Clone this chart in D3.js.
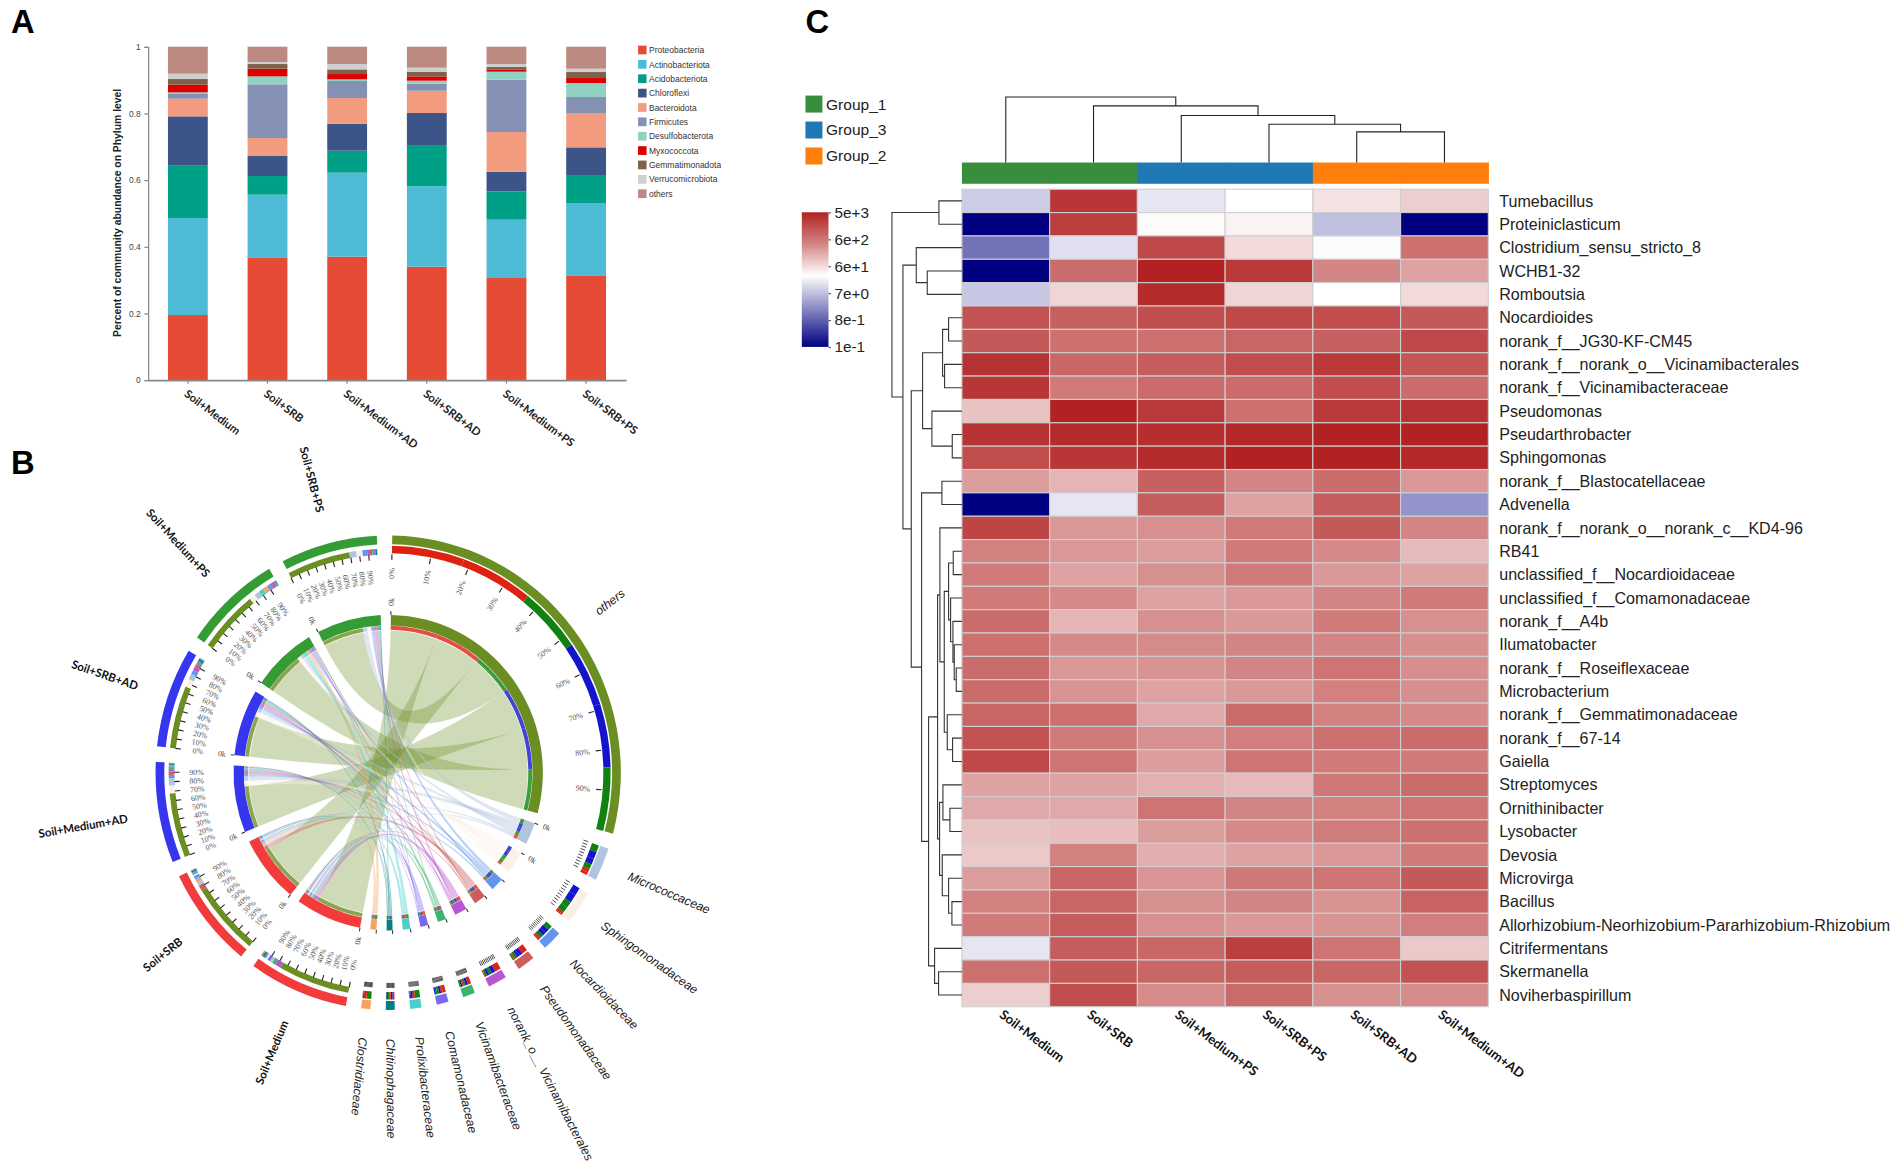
<!DOCTYPE html>
<html>
<head>
<meta charset="utf-8">
<script src="https://cdn.jsdelivr.net/npm/d3@7"></script>
<style>
body { margin: 0; background: #fff; }
svg { display: block; }
</style>
</head>
<body>
<script>
// ---------- panel A data ----------
const barSamples = ["Soil+Medium", "Soil+SRB", "Soil+Medium+AD", "Soil+SRB+AD", "Soil+Medium+PS", "Soil+SRB+PS"];
const phyla = ["Proteobacteria", "Actinobacteriota", "Acidobacteriota", "Chloroflexi", "Bacteroidota", "Firmicutes", "Desulfobacterota", "Myxococcota", "Gemmatimonadota", "Verrucomicrobiota", "others"];
const phylumColors = ["#E64B35", "#4DBBD5", "#00A087", "#3C5488", "#F39B7F", "#8491B4", "#91D1C2", "#DC0000", "#7E6148", "#CFCFCF", "#BC8A80"];
const proteobacteria = [0.195, 0.368, 0.370, 0.340, 0.306, 0.314];
const actinobacteriota = [0.291, 0.188, 0.252, 0.241, 0.175, 0.217];
const acidobacteriota = [0.157, 0.056, 0.066, 0.124, 0.085, 0.084];
const chloroflexi = [0.148, 0.060, 0.081, 0.096, 0.059, 0.083];
const bacteroidota = [0.053, 0.054, 0.077, 0.067, 0.119, 0.103];
const firmicutes = [0.016, 0.161, 0.051, 0.021, 0.157, 0.048];
const desulfobacterota = [0.003, 0.024, 0.005, 0.009, 0.024, 0.042];
const myxococcota = [0.023, 0.023, 0.016, 0.013, 0.007, 0.015];
const gemmatimonadota = [0.017, 0.014, 0.014, 0.014, 0.007, 0.018];
const verrucomicrobiota = [0.016, 0.006, 0.016, 0.012, 0.009, 0.010];
const otherPhyla = [0.081, 0.046, 0.052, 0.063, 0.052, 0.066];
const phylumValues = [proteobacteria, actinobacteriota, acidobacteriota, chloroflexi, bacteroidota, firmicutes, desulfobacterota, myxococcota, gemmatimonadota, verrucomicrobiota, otherPhyla];

// ---------- panel B data ----------
const chordSamples = ["Soil+Medium", "Soil+SRB", "Soil+Medium+AD", "Soil+SRB+AD", "Soil+Medium+PS", "Soil+SRB+PS"];
const chordSampleColors = ["#F23B3B", "#F23B3B", "#3636EE", "#3636EE", "#359B35", "#359B35"];
const chordStackColors = ["#DD2211", "#DD2211", "#1414CC", "#1414CC", "#0F820F", "#0F820F"];
const chordTaxa = ["others", "Micrococcaceae", "Sphingomonadaceae", "Nocardioidaceae", "Pseudomonadaceae", "norank_o__Vicinamibacterales", "Vicinamibacteraceae", "Comamonadaceae", "Prolixibacteraceae", "Chitinophagaceae", "Clostridiaceae"];
const chordTaxaColors = ["#6B8E23", "#B0C4DE", "#FAF0E6", "#6495ED", "#CD5C5C", "#BA55D3", "#3CB371", "#7B68EE", "#48D1CC", "#008080", "#F4A460"];
// one row per taxon, columns in chordSamples order
const chordLinks = [
  [77, 77, 68, 66, 66, 68],
  [3, 3.5, 7.5, 6, 5.5, 7.5],
  [2, 1.5, 8.5, 8.5, 6.5, 6.5],
  [2, 1.5, 3.5, 4.5, 3.5, 5],
  [1.5, 6, 3.5, 3, 1.5, 2.5],
  [6.5, 1, 2.5, 4, 2, 3],
  [3.5, 1.5, 1.5, 2.5, 1.5, 2],
  [3, 2, 1.5, 2, 2, 1.5],
  [0.5, 2.5, 1.5, 1, 5.5, 0.5],
  [2, 1.5, 1.5, 2, 0.5, 1.5],
  [0.2, 3, 0.8, 0.2, 5, 0.2]
];
const sampleStackOrder = [0, 1, 5, 2, 3, 4];
const percentTicks = [0, 10, 20, 30, 40, 50, 60, 70, 80, 90];

// ---------- panel C data ----------
const heatCols = ["Soil+Medium", "Soil+SRB", "Soil+Medium+PS", "Soil+SRB+PS", "Soil+SRB+AD", "Soil+Medium+AD"];
const colGroups = ["Group_1", "Group_1", "Group_3", "Group_3", "Group_2", "Group_2"];
const groupNames = ["Group_1", "Group_3", "Group_2"];
const groupColors = ["#388E3C", "#1F77B4", "#FF7F0E"];
const heatRows = ["Tumebacillus", "Proteiniclasticum", "Clostridium_sensu_stricto_8", "WCHB1-32", "Romboutsia", "Nocardioides", "norank_f__JG30-KF-CM45", "norank_f__norank_o__Vicinamibacterales", "norank_f__Vicinamibacteraceae", "Pseudomonas", "Pseudarthrobacter", "Sphingomonas", "norank_f__Blastocatellaceae", "Advenella", "norank_f__norank_o__norank_c__KD4-96", "RB41", "unclassified_f__Nocardioidaceae", "unclassified_f__Comamonadaceae", "norank_f__A4b", "Ilumatobacter", "norank_f__Roseiflexaceae", "Microbacterium", "norank_f__Gemmatimonadaceae", "norank_f__67-14", "Gaiella", "Streptomyces", "Ornithinibacter", "Lysobacter", "Devosia", "Microvirga", "Bacillus", "Allorhizobium-Neorhizobium-Pararhizobium-Rhizobium", "Citrifermentans", "Skermanella", "Noviherbaspirillum"];
// position of each cell on the colour bar: -1 bottom, 0 white, 1 top
const heatLevels = [
  [-.2, .9, -.1, 0, .12, .2],
  [-1, .85, .02, .05, -.25, -1],
  [-.55, -.12, .8, .15, -.01, .6],
  [-1, .62, 1, .88, .5, .38],
  [-.22, .17, .95, .17, 0, .15],
  [.75, .68, .77, .8, .78, .72],
  [.72, .6, .6, .66, .68, .8],
  [.92, .65, .7, .78, .88, .74],
  [.9, .55, .62, .62, .78, .62],
  [.25, 1, .88, .6, .88, .92],
  [.92, .96, .94, .97, 1, 1.05],
  [.78, .9, .95, 1, 1, .97],
  [.4, .3, .68, .5, .62, .42],
  [-1, -.1, .7, .38, .7, -.42],
  [.82, .42, .45, .55, .72, .5],
  [.52, .42, .4, .55, .48, .28],
  [.55, .38, .45, .55, .42, .38],
  [.55, .48, .38, .42, .5, .55],
  [.62, .3, .45, .42, .55, .45],
  [.6, .48, .47, .5, .5, .46],
  [.62, .42, .44, .5, .58, .46],
  [.62, .44, .38, .42, .52, .46],
  [.66, .6, .35, .62, .52, .48],
  [.75, .55, .45, .53, .6, .62],
  [.8, .58, .4, .58, .55, .55],
  [.38, .38, .32, .28, .56, .62],
  [.35, .35, .58, .5, .52, .58],
  [.25, .27, .4, .48, .54, .6],
  [.22, .52, .33, .38, .42, .55],
  [.4, .66, .43, .56, .58, .72],
  [.52, .66, .45, .5, .44, .67],
  [.55, .7, .45, .42, .44, .53],
  [-.1, .7, .65, .85, .58, .22],
  [.6, .72, .65, .7, .65, .75],
  [.2, .78, .47, .63, .45, .47]
];
const colorBarTicks = ["5e+3", "6e+2", "6e+1", "7e+0", "8e-1", "1e-1"];
// trees: [height, child, child], a plain number is a leaf index
const colTree = [171, 0, [148, 1, [123, 2, [100, 3, [80, 4, 5]]]]];
const rowTree = [210,
  [69, 0, 1],
  [177,
    [137, 2, [104, 3, 4]],
    [152,
      [118,
        [58, [40, 5, 6], [52, 7, 8]],
        [90, 9, [29, 10, 11]]],
      [121,
        [60, 12, 13],
        [100,
          [73,
            [66, 14,
              [53,
                [40, [26, 15, 16], [34, 17, [27, 18, [23, 19, [17, 20, 21]]]]],
                [44, 22, [28, 23, 24]]]],
            [67,
              [57, 25, [36, 26, 27]],
              [59, 28, [40, 29, [30, 30, 31]]]]],
          [82, 32, [70, 33, 34]]]]]]];

// ---------- page ----------
const svg = d3.select("body")
  .append("svg")
  .attr("width", 1902)
  .attr("height", 1162)
  .attr("viewBox", "0 0 1568 958")
  .style("font-family", "'Liberation Sans', Arial, sans-serif");

const letters = [["A", 9, 27], ["B", 9, 391], ["C", 664, 27]];
svg.selectAll(".letter")
  .data(letters)
  .enter()
  .append("text")
  .attr("x", d => d[1])
  .attr("y", d => d[2])
  .attr("font-size", 27)
  .attr("font-weight", "bold")
  .text(d => d[0]);

// ---------- panel A ----------
const barX = d3.scaleBand().domain(barSamples).range([122, 516]).paddingInner(0.5).paddingOuter(0.25);
const barY = d3.scaleLinear().domain([0, 1]).range([313.3, 38.5]);

const barTable = barSamples.map((s, i) => {
  const row = { sample: s };
  phyla.forEach((p, j) => { row[p] = phylumValues[j][i]; });
  return row;
});
const barStack = d3.stack().keys(phyla)(barTable);

const barG = svg.append("g");
barG.selectAll("g")
  .data(barStack)
  .enter()
  .append("g")
  .attr("fill", (d, i) => phylumColors[i])
  .selectAll("rect")
  .data(d => d)
  .enter()
  .append("rect")
  .attr("x", d => barX(d.data.sample))
  .attr("width", barX.bandwidth())
  .attr("y", d => barY(d[1]))
  .attr("height", d => barY(d[0]) - barY(d[1]));

const barAxisY = barG.append("g")
  .attr("transform", "translate(122,0)")
  .call(d3.axisLeft(barY).tickValues([0, 0.2, 0.4, 0.6, 0.8, 1]).tickFormat(d => d).tickSize(3));
barAxisY.selectAll("text").attr("font-size", 7).attr("font-family", "'Liberation Sans'").attr("fill", "#444");
barAxisY.selectAll("line,path").attr("stroke", "#888");

const barAxisX = barG.append("g")
  .attr("transform", "translate(0,313.3)")
  .call(d3.axisBottom(barX).tickSize(3).tickSizeOuter(0));
barAxisX.select("path").attr("stroke", "#888").attr("stroke-width", 1.4);
barAxisX.selectAll("line").attr("stroke", "#888");
barAxisX.selectAll("text")
  .attr("font-family", "Lato")
  .attr("font-weight", "bold")
  .attr("font-size", 9.3)
  .attr("fill", "#222")
  .attr("text-anchor", "start")
  .attr("dy", 0)
  .attr("transform", "translate(0,8) rotate(37)");

barG.append("text")
  .attr("transform", "translate(100,175.5) rotate(-90)")
  .attr("text-anchor", "middle")
  .attr("font-size", 8.55)
  .attr("font-weight", "bold")
  .attr("fill", "#222")
  .text("Percent of community abundance on Phylum level");

const barLegendY = d3.scalePoint().domain(phyla).range([41.2, 159.7]);
barG.selectAll(".leg")
  .data(phyla)
  .enter()
  .append("rect")
  .attr("x", 526)
  .attr("y", d => barLegendY(d) - 3.6)
  .attr("width", 7)
  .attr("height", 7.2)
  .attr("fill", (d, i) => phylumColors[i]);
barG.selectAll(".legText")
  .data(phyla)
  .enter()
  .append("text")
  .attr("x", 535)
  .attr("y", d => barLegendY(d) + 2.6)
  .attr("font-size", 7)
  .attr("fill", "#333")
  .text(d => d);

// ---------- panel B ----------
const chordG = svg.append("g").attr("transform", "translate(320,637) scale(1,1.02)");
const rad = d => d * Math.PI / 180;
const gapDeg = 3.8;
const startDeg = 1;
const sampleSums = chordSamples.map((s, j) => d3.sum(chordLinks, row => row[j]));
const taxonSums = chordLinks.map(row => d3.sum(row));
const sectorNames = chordTaxa.concat(chordSamples);
const sectorSums = taxonSums.concat(sampleSums);
const sectorColors = chordTaxaColors.concat(chordSampleColors);
const sweep = d3.scaleLinear()
  .domain([0, d3.sum(sectorSums)])
  .range([0, 360 - gapDeg * sectorNames.length]);

let used = 0;
const sectors = sectorNames.map((name, i) => {
  const a0 = startDeg + sweep(used) + i * gapDeg;
  used += sectorSums[i];
  const a1 = startDeg + sweep(used) + i * gapDeg;
  return { name, a0, a1, color: sectorColors[i], isTaxon: i < chordTaxa.length, index: i };
});

// stack the links inside every sector, biggest first
const linkAngles = {};
const stacks = sectors.map(sec => {
  let list;
  if (sec.isTaxon) {
    list = sampleStackOrder.map(j => ({ t: sec.index, s: j, v: chordLinks[sec.index][j], color: chordStackColors[j] }));
  } else {
    const j = sec.index - chordTaxa.length;
    list = chordTaxa.map((n, t) => ({ t, s: j, v: chordLinks[t][j], color: chordTaxaColors[t] }));
  }
  list.sort((a, b) => b.v - a.v);
  let a = sec.a0;
  list.forEach(l => {
    l.a0 = a;
    a += sweep(l.v);
    l.a1 = a;
    const key = l.t + "-" + l.s;
    linkAngles[key] = linkAngles[key] || {};
    linkAngles[key][sec.isTaxon ? "taxon" : "sample"] = { startAngle: rad(l.a0), endAngle: rad(l.a1) };
  });
  return list;
});

const ribbon = d3.ribbon().radius(115);
const ribbonData = [];
chordLinks.forEach((row, t) => row.forEach((v, s) => {
  const e = linkAngles[t + "-" + s];
  ribbonData.push({ t, source: e.taxon, target: e.sample });
}));
chordG.selectAll(".ribbon")
  .data(ribbonData)
  .enter()
  .append("path")
  .attr("d", d => ribbon(d))
  .attr("fill", d => chordTaxaColors[d.t])
  .attr("fill-opacity", d => d.t === 0 ? 0.32 : 0.42)
  .attr("stroke", "none");

const arc = d3.arc();
const band = (r0, r1, a0, a1) => arc({ innerRadius: r0, outerRadius: r1, startAngle: rad(a0), endAngle: rad(a1) });

// thick rings
chordG.selectAll(".outer")
  .data(sectors)
  .enter()
  .append("path")
  .attr("d", d => band(184.6, 191.8, d.a0, d.a1))
  .attr("fill", d => d.color);
chordG.selectAll(".inner")
  .data(sectors)
  .enter()
  .append("path")
  .attr("d", d => band(119, 127.5, d.a0, d.a1))
  .attr("fill", d => d.color);

// stacked rings
stacks.forEach((list, i) => {
  const sec = sectors[i];
  const rOuter = sec.isTaxon ? [177.4, 183.4] : [176.2, 181];
  chordG.append("g").selectAll("path")
    .data(list)
    .enter()
    .append("path")
    .attr("d", d => band(rOuter[0], rOuter[1], d.a0, d.a1))
    .attr("fill", d => d.color);
  chordG.append("g").selectAll("path")
    .data(list)
    .enter()
    .append("path")
    .attr("d", d => band(115.5, 118.7, d.a0, d.a1))
    .attr("fill", d => d.color)
    .attr("fill-opacity", 0.8);
});

// percent ticks on the stacked ring
const tickData = [];
sectors.forEach(sec => percentTicks.forEach(p => tickData.push({ sec, p, a: sec.a0 + (sec.a1 - sec.a0) * p / 100 })));
const small = d => d.sec.isTaxon && d.sec.index > 0;
chordG.selectAll(".tick")
  .data(tickData)
  .enter()
  .append("line")
  .attr("transform", d => `rotate(${d.a - 90})`)
  .attr("x1", d => small(d) ? 170 : 172)
  .attr("x2", d => small(d) ? 174 : 176.5)
  .attr("stroke", "#222")
  .attr("stroke-width", d => small(d) ? 0.6 : 0.9);

chordG.selectAll(".tickLabel")
  .data(tickData.filter(d => !small(d)))
  .enter()
  .append("text")
  .attr("transform", d => `rotate(${d.a - 90}) translate(${d.sec.isTaxon ? 161 : 158},0)` + (d.a > 180 ? " rotate(180)" : ""))
  .attr("text-anchor", "middle")
  .attr("dy", "0.35em")
  .attr("font-family", "'Liberation Serif'")
  .attr("font-size", 6.5)
  .attr("fill", "#555")
  .text(d => d.p + "%");

// start tick on the inner ring, 0k only where there is room
chordG.selectAll(".startTick")
  .data(sectors)
  .enter()
  .append("line")
  .attr("transform", d => `rotate(${d.a0 - 90})`)
  .attr("x1", 127.5)
  .attr("x2", 130.5)
  .attr("stroke", "#222")
  .attr("stroke-width", 0.8);
chordG.selectAll(".zero")
  .data(sectors.filter(d => !d.isTaxon || d.index < 3))
  .enter()
  .append("text")
  .attr("transform", d => `rotate(${d.a0 - 90}) translate(138,0)` + (d.a0 > 180 ? " rotate(180)" : ""))
  .attr("text-anchor", "middle")
  .attr("dy", "0.35em")
  .attr("font-family", "'Liberation Serif'")
  .attr("font-size", 6.5)
  .attr("fill", "#444")
  .text("0k");

// sector names
chordG.selectAll(".taxonName")
  .data(sectors.filter(d => d.isTaxon))
  .enter()
  .append("text")
  .attr("transform", d => `rotate(${(d.a0 + d.a1) / 2 - 90}) translate(215,0)`)
  .attr("dy", "0.35em")
  .attr("font-size", 10)
  .attr("font-style", "italic")
  .attr("fill", "#222")
  .text(d => d.name === "norank_o__Vicinamibacterales" ? "norank_o__ Vicinamibacterales" : d.name);
chordG.selectAll(".sampleName")
  .data(sectors.filter(d => !d.isTaxon))
  .enter()
  .append("text")
  .attr("transform", d => `rotate(${(d.a0 + d.a1) / 2 - 90}) translate(218,0) rotate(180)`)
  .attr("text-anchor", "end")
  .attr("dy", "0.35em")
  .attr("font-family", "Lato")
  .attr("font-weight", "bold")
  .attr("font-size", 9.4)
  .attr("fill", "#111")
  .text(d => d.name);

// ---------- panel C ----------
const heatX = d3.scaleBand().domain(heatCols).range([793, 1227]);
const heatY = d3.scaleBand().domain(heatRows).range([156, 830]);
const heatColor = d3.scaleLinear().domain([-1, 0, 0.5, 1]).range(["#000080", "#FFFFFF", "#D38484", "#B22222"]).clamp(true);
const heatG = svg.append("g");

heatRows.forEach((r, i) => {
  heatG.append("g").selectAll("rect")
    .data(heatLevels[i])
    .enter()
    .append("rect")
    .attr("x", (d, j) => heatX(heatCols[j]))
    .attr("y", heatY(r))
    .attr("width", heatX.bandwidth())
    .attr("height", heatY.bandwidth())
    .attr("fill", d => heatColor(d))
    .attr("stroke", "#CFCFCF")
    .attr("stroke-width", 0.9);
});

heatG.selectAll(".rowName")
  .data(heatRows)
  .enter()
  .append("text")
  .attr("x", 1236)
  .attr("y", d => heatY(d) + heatY.bandwidth() / 2)
  .attr("dy", "0.35em")
  .attr("font-size", 13.25)
  .attr("fill", "#222")
  .text(d => d);

heatG.selectAll(".colName")
  .data(heatCols)
  .enter()
  .append("text")
  .attr("transform", d => `translate(${heatX(d) + heatX.bandwidth() / 2 - 6},838) rotate(37)`)
  .attr("font-family", "Lato")
  .attr("font-weight", "bold")
  .attr("font-size", 10.8)
  .attr("fill", "#111")
  .text(d => d);

// group bar above the columns
const groupColor = d3.scaleOrdinal().domain(groupNames).range(groupColors);
heatG.selectAll(".groupBar")
  .data(heatCols)
  .enter()
  .append("rect")
  .attr("x", d => heatX(d))
  .attr("y", 134)
  .attr("width", heatX.bandwidth() + 0.5)
  .attr("height", 17.5)
  .attr("fill", (d, i) => groupColor(colGroups[i]));

// dendrograms
function drawTree(node, leafPos, heightPos, horizontal, out) {
  if (typeof node === "number") return { pos: leafPos(node), h: heightPos(0) };
  const a = drawTree(node[1], leafPos, heightPos, horizontal, out);
  const b = drawTree(node[2], leafPos, heightPos, horizontal, out);
  const h = heightPos(node[0]);
  out.push(horizontal
    ? `M${a.h},${a.pos}H${h}V${b.pos}H${b.h}`
    : `M${a.pos},${a.h}V${h}H${b.pos}V${b.h}`);
  return { pos: (a.pos + b.pos) / 2, h };
}
const rowHeight = d3.scaleLinear().domain([0, 210]).range([793, 735.3]);
const colHeight = d3.scaleLinear().domain([0, 171]).range([134, 80]);
const rowPaths = [];
const colPaths = [];
drawTree(rowTree, i => heatY(heatRows[i]) + heatY.bandwidth() / 2, rowHeight, true, rowPaths);
drawTree(colTree, i => heatX(heatCols[i]) + heatX.bandwidth() / 2, colHeight, false, colPaths);
heatG.append("path").attr("d", rowPaths.join("")).attr("fill", "none").attr("stroke", "#333").attr("stroke-width", 0.9);
heatG.append("path").attr("d", colPaths.join("")).attr("fill", "none").attr("stroke", "#222").attr("stroke-width", 0.9);

// group legend
const groupLegendY = d3.scalePoint().domain(groupNames).range([85.8, 128.6]);
heatG.selectAll(".groupSwatch")
  .data(groupNames)
  .enter()
  .append("rect")
  .attr("x", 664)
  .attr("y", d => groupLegendY(d) - 7)
  .attr("width", 14)
  .attr("height", 14)
  .attr("fill", d => groupColor(d));
heatG.selectAll(".groupText")
  .data(groupNames)
  .enter()
  .append("text")
  .attr("x", 681)
  .attr("y", d => groupLegendY(d))
  .attr("dy", "0.35em")
  .attr("font-size", 12.8)
  .attr("fill", "#222")
  .text(d => d);

// colour bar
const defs = svg.append("defs");
const grad = defs.append("linearGradient")
  .attr("id", "heatBar")
  .attr("x1", 0).attr("x2", 0).attr("y1", 0).attr("y2", 1);
grad.selectAll("stop")
  .data([[0, 1], [0.235, 0.5], [0.47, 0], [1, -1]])
  .enter()
  .append("stop")
  .attr("offset", d => d[0])
  .attr("stop-color", d => heatColor(d[1]));
heatG.append("rect")
  .attr("x", 661)
  .attr("y", 175)
  .attr("width", 22)
  .attr("height", 111)
  .attr("fill", "url(#heatBar)");
const barScale = d3.scalePoint().domain(colorBarTicks).range([175, 286]);
const colorAxis = heatG.append("g")
  .attr("transform", "translate(683,0)")
  .call(d3.axisRight(barScale).tickSize(2).tickPadding(3));
colorAxis.select("path").remove();
colorAxis.selectAll("line").attr("stroke", "#555");
colorAxis.selectAll("text").attr("font-size", 12.6).attr("font-family", "'Liberation Sans'").attr("fill", "#222");
</script>
</body>
</html>
